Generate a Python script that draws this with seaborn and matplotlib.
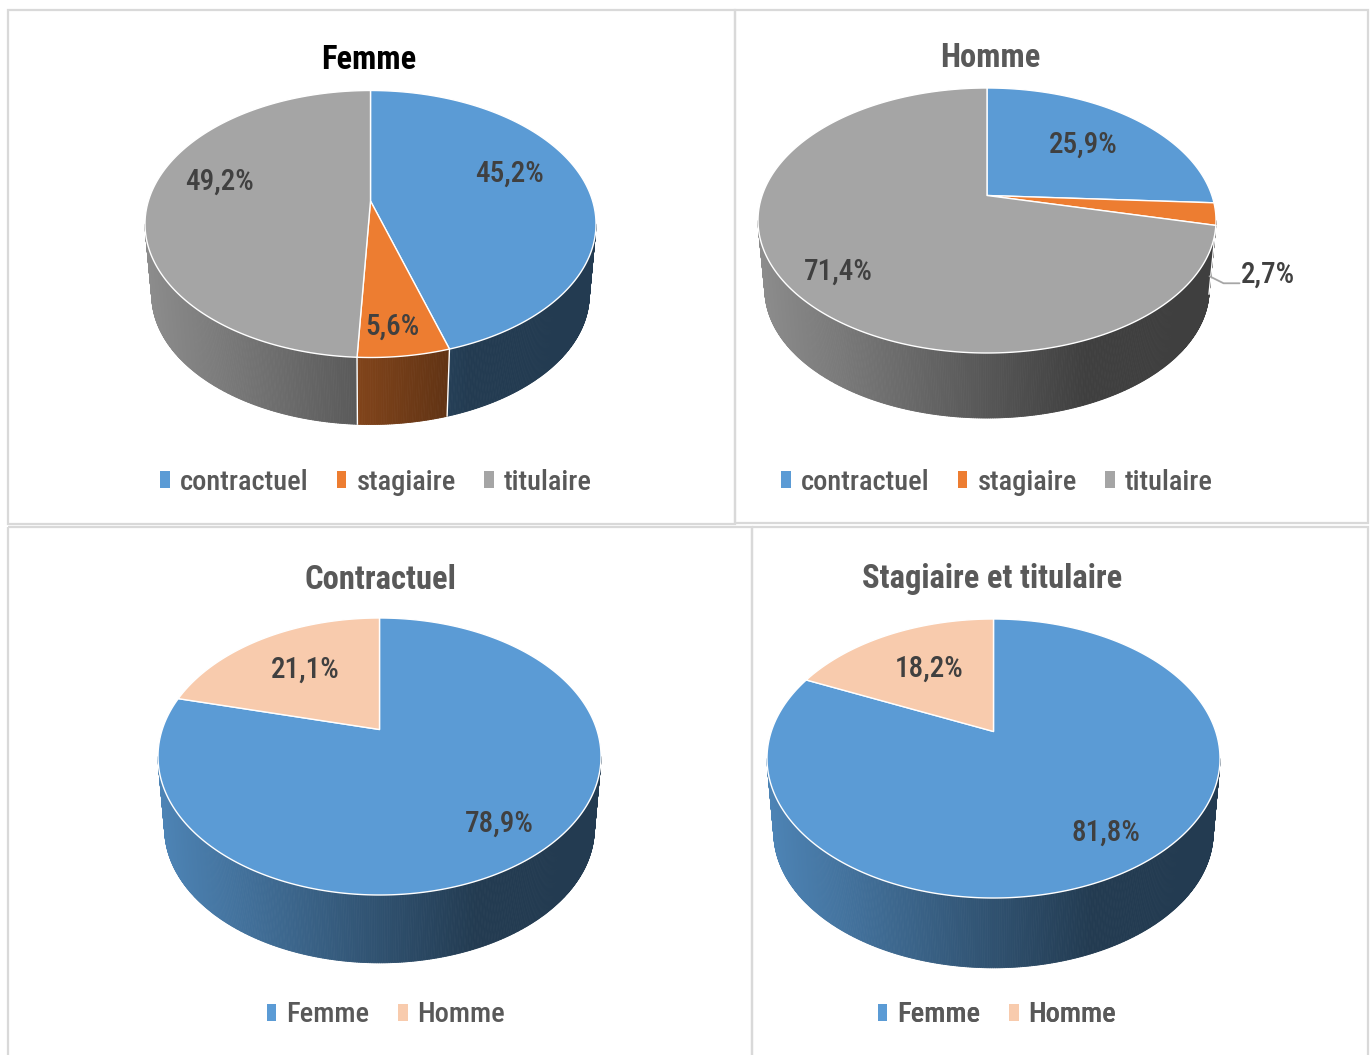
import numpy as np
import matplotlib
matplotlib.use("Agg")
import matplotlib.pyplot as plt
import seaborn as sns
from matplotlib.patches import Polygon, Patch, Rectangle
from matplotlib.collections import PolyCollection
from matplotlib import font_manager as fm

# ---- data -----------------------------------------------------------------
statuts = ["contractuel", "stagiaire", "titulaire"]
sexes = ["Femme", "Homme"]
femme_pct = [45.2, 5.6, 49.2]
homme_pct = [25.9, 2.7, 71.4]
contractuel_pct = [78.9, 21.1]
stag_tit_pct = [81.8, 18.2]
titles = ["Femme", "Homme", "Contractuel", "Stagiaire et titulaire"]

# ---- style ----------------------------------------------------------------
sns.set_theme(style="white")
statut_colors = sns.color_palette(["#5B9BD5", "#ED7D31", "#A5A5A5"])
sexe_colors = sns.color_palette(["#5B9BD5", "#F8CBAD"])


def pick_font():
    names = {f.name for f in fm.fontManager.ttflist}
    for cand in ["Liberation Sans Narrow", "Roboto Condensed",
                 "Open Sans Condensed", "DejaVu Sans Condensed"]:
        if cand in names:
            return cand
    return "DejaVu Sans"


FONT = pick_font()
plt.rcParams["font.family"] = [FONT, "DejaVu Sans"]

LABEL_COLOR = "#404040"
TEXT_GREY = "#595959"

fig = plt.figure(figsize=(13.72, 10.55), dpi=100)
ax = fig.add_axes([0, 0, 1, 1])
ax.set_xlim(0, 1372)
ax.set_ylim(1055, 0)
ax.axis("off")

# panel frames
for (x0, y0, x1, y1) in [(8, 10, 735, 524), (735, 10, 1368, 523),
                         (8, 527, 752, 1060), (752, 527, 1368, 1060)]:
    ax.add_patch(Rectangle((x0, y0), x1 - x0, y1 - y0, fill=False,
                           ec="#D9D9D9", lw=1.6, zorder=0))


def pie3d(values, colors, cx, cy, rx, ry, depth, apex_shift, shrink=0.97):
    """Tilted pie seen in perspective, with a shaded rim.

    Angles run clockwise from 12 o'clock; the disc is projected with a
    projective map so the centre of the disc sits `apex_shift` px above
    the centre of the top ellipse.
    """
    e = apex_shift / ry
    k = np.sqrt(1 - e * e)
    total = float(sum(values))
    bounds = np.concatenate([[0.0], np.cumsum(values) / total * 360.0])
    cyb, rxb, ryb = cy + depth, rx * shrink, ry * shrink

    def proj(th):
        t = np.radians(th)
        u0, v0 = np.sin(t), -np.cos(t)
        w = 1 - e * v0
        return u0 * k / w, (v0 - e) / w

    def top(th):
        u, v = proj(th)
        return cx + rx * u, cy + ry * v

    def bot(th):
        u, v = proj(th)
        return cx + rxb * u, cyb + ryb * v

    apex = (cx, cy - apex_shift)
    vis_lo = np.degrees(np.arccos(-e))
    vis_hi = 360.0 - vis_lo
    x_left = cx - rx

    def shade(x):
        u = np.clip((x - x_left) / (2 * rx) / 0.72, 0, 1)
        return 0.85 - (0.85 - 0.38) * u

    polys, fcs = [], []
    for i, (a, b) in enumerate(zip(bounds[:-1], bounds[1:])):
        lo, hi = max(a, vis_lo), min(b, vis_hi)
        if hi <= lo:
            continue
        n = max(2, int((hi - lo) / 0.4))
        th = np.linspace(lo, hi, n + 1)
        for t0, t1 in zip(th[:-1], th[1:]):
            x0, y0 = top(t0)
            x1, y1 = top(t1)
            xb0, yb0 = bot(t0)
            xb1, yb1 = bot(t1)
            polys.append([(x0, y0), (x1, y1), (xb1, yb1), (xb0, yb0)])
            f = shade(0.5 * (x0 + x1))
            fcs.append(tuple(np.clip(np.array(colors[i]) * f, 0, 1)))
    ax.add_collection(PolyCollection(polys, facecolors=fcs, edgecolors=fcs,
                                     linewidths=0.6, zorder=2))
    for b in bounds[1:-1]:
        if vis_lo < b < vis_hi:
            x0, y0 = top(b)
            x1, y1 = bot(b)
            ax.plot([x0, x1], [y0, y1], color="white", lw=1.0, zorder=3)

    for i, (a, b) in enumerate(zip(bounds[:-1], bounds[1:])):
        th = np.linspace(a, b, max(3, int((b - a) * 2)))
        xs, ys = top(th)
        verts = [apex] + list(zip(xs, ys))
        ax.add_patch(Polygon(verts, closed=True, facecolor=colors[i],
                             edgecolor="white", lw=1.0, joinstyle="round",
                             zorder=4))
    return bounds, top, bot


def pct(v):
    return f"{v:.1f}%".replace(".", ",")


def add_labels(values, positions):
    for v, (x, y) in zip(values, positions):
        ax.text(x, y + 2, pct(v), ha="center", va="center", fontsize=21,
                fontweight="medium", color=LABEL_COLOR, zorder=6)


def add_title(text, x, y, color):
    ax.text(x, y + 3, text, ha="center", va="center", fontsize=23.5,
            fontweight="bold", color=color, zorder=6)


def add_legend(labels, colors, x, y):
    handles = [Patch(facecolor=c, edgecolor="none", label=l)
               for l, c in zip(labels, colors)]
    leg = ax.legend(handles=handles, loc="center", bbox_to_anchor=(x, y + 2),
                    bbox_transform=ax.transData, ncol=len(labels),
                    frameon=False, handlelength=0.34, handleheight=0.5,
                    handletextpad=0.35, columnspacing=1.0,
                    prop={"size": 20.5, "weight": "medium"},
                    labelcolor=TEXT_GREY)
    ax.add_artist(leg)


# ---- Femme ----------------------------------------------------------------
add_title(titles[0], 369, 57, "black")
pie3d(femme_pct, statut_colors, 370.5, 224, 225.5, 133.5, 71, 23)
add_labels(femme_pct, [(509, 172), (392, 325), (219, 180)])
add_legend(statuts, statut_colors, 376, 480)

# ---- Homme ----------------------------------------------------------------
add_title(titles[1], 990, 55, TEXT_GREY)
bounds_h, top_h, bot_h = pie3d(homme_pct, statut_colors, 987, 220.5, 229,
                               132.5, 69, 25)
add_labels([homme_pct[0], homme_pct[2]], [(1083, 143), (838, 270)])
mid = 0.5 * (bounds_h[1] + bounds_h[2])
xa, ya = top_h(mid)
xb, yb = bot_h(mid)
sx, sy = xa + 0.9 * (xb - xa), ya + 0.9 * (yb - ya)
ax.plot([sx, sx + 14, sx + 30], [sy, sy + 7, sy + 7], color="#A6A6A6",
        lw=1.3, zorder=5)
ax.text(sx + 31, sy - 2, pct(homme_pct[1]), ha="left", va="center",
        fontsize=21, fontweight="medium", color=LABEL_COLOR, zorder=6)
add_legend(statuts, statut_colors, 997, 480)

# ---- Contractuel ----------------------------------------------------------
add_title(titles[2], 380, 577, TEXT_GREY)
pie3d(contractuel_pct, sexe_colors, 379.5, 756.5, 221.5, 138.5, 72, 27)
add_labels(contractuel_pct, [(499, 822), (305, 668)])
add_legend(sexes, sexe_colors, 386, 1013)

# ---- Stagiaire et titulaire -----------------------------------------------
add_title(titles[3], 992, 576, TEXT_GREY)
pie3d(stag_tit_pct, sexe_colors, 993.5, 758.5, 226.5, 139.5, 74, 27)
add_labels(stag_tit_pct, [(1106, 831), (929, 667)])
add_legend(sexes, sexe_colors, 997, 1013)

fig.savefig("out.png", dpi=100, facecolor="white")
